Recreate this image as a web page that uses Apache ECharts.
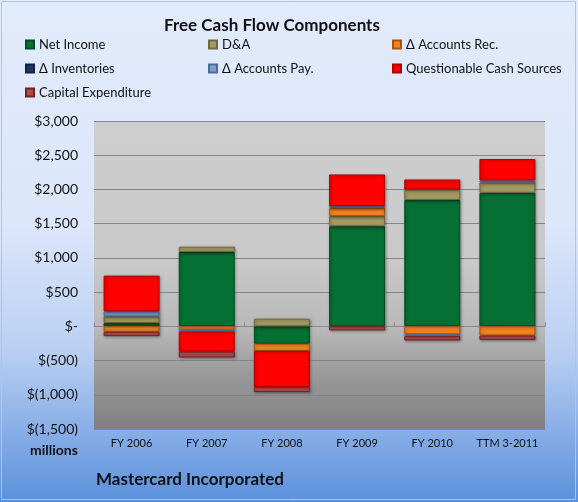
<!DOCTYPE html>
<html>
<head>
<meta charset="utf-8">
<script src="https://cdn.jsdelivr.net/npm/echarts@6/dist/echarts.min.js"></script>
<style>
html,body{margin:0;padding:0;}
#chart{width:578px;height:502px;}
</style>
</head>
<body>
<div id="chart"></div>
<script>
var categories = ['FY 2006', 'FY 2007', 'FY 2008', 'FY 2009', 'FY 2010', 'TTM 3-2011'];
var netIncome = [50, 1086, -255, 1463, 1846, 1950];
var depAmort = [95, 78, 112, 147, 152, 152];
var accountsRec = [-80, -50, -105, 118, -118, -135];
var inventories = [0, 0, 0, 0, 0, 0];
var accountsPay = [75, -25, 0, 29, -25, 29];
var questionable = [520, -295, -530, 462, 147, 313];
var capex = [-63, -85, -70, -59, -63, -63];
var yTicks = { min: -1500, max: 3000, interval: 500 };

var chart = echarts.init(document.getElementById('chart'));
var FONT = 'Lato';

function fmt(v) {
  if (v === 0) return '$-';
  var s = Math.abs(v).toString().replace(/\B(?=(\d{3})+(?!\d))/g, ',');
  return v < 0 ? '$(' + s + ')' : '$' + s;
}

function mkSeries(name, data, color, border) {
  return {
    name: name,
    type: 'bar',
    stack: 'fcf',
    xAxisIndex: 0,
    data: data.map(function (v) { return v === 0 ? null : v; }),
    barWidth: 56,
    itemStyle: {
      color: color,
      borderColor: border,
      borderWidth: 1,
      shadowBlur: 3,
      shadowColor: 'rgba(0,0,0,0.35)',
      shadowOffsetX: 1,
      shadowOffsetY: 1
    },
    emphasis: { disabled: true }
  };
}

var legendCommon = {
  orient: 'vertical',
  top: 32,
  itemWidth: 8,
  itemHeight: 8,
  itemGap: 9,
  icon: 'rect',
  textStyle: { fontFamily: FONT, fontSize: 13, color: '#111', lineHeight: 15 }
};

var option = {
  animation: false,
  backgroundColor: {
    type: 'linear', x: 0, y: 0, x2: 0, y2: 1,
    colorStops: [
      { offset: 0, color: '#e2ebfb' },
      { offset: 0.45, color: '#dbe6fa' },
      { offset: 0.7, color: '#b9cff2' },
      { offset: 1, color: '#5b90dc' }
    ]
  },
  title: {
    text: 'Free Cash Flow Components',
    left: 159,
    top: 12,
    textStyle: { fontFamily: FONT, fontSize: 17, fontWeight: 'bold', color: '#111' }
  },
  legend: [
    Object.assign({ left: 20, data: ['Net Income', 'Δ Inventories', 'Capital Expenditure'] }, legendCommon),
    Object.assign({ left: 203, data: ['D&A', 'Δ Accounts Pay.'] }, legendCommon),
    Object.assign({ left: 387, data: ['Δ Accounts Rec.', 'Questionable Cash Sources'] }, legendCommon)
  ],
  grid: {
    left: 94, right: 33, top: 121, bottom: 73,
    show: true,
    borderWidth: 0,
    backgroundColor: {
      type: 'linear', x: 0, y: 0, x2: 0, y2: 1,
      colorStops: [
        { offset: 0, color: '#cecece' },
        { offset: 0.45, color: '#c9c9c9' },
        { offset: 0.68, color: '#b8b8b8' },
        { offset: 0.8, color: '#9d9d9d' },
        { offset: 1, color: '#7f7f7f' }
      ]
    }
  },
  xAxis: [
    {
      type: 'category',
      data: categories,
      position: 'bottom',
      axisLine: { show: false, onZero: false },
      axisTick: { show: false },
      axisLabel: { fontFamily: FONT, fontSize: 11, color: '#111', margin: 9, interval: 0 }
    },
    {
      type: 'category',
      data: categories,
      axisLine: { show: true, onZero: true, lineStyle: { color: '#888', width: 1 } },
      axisTick: { show: true, inside: false, length: 4, lineStyle: { color: '#888' } },
      axisLabel: { show: false },
      splitLine: { show: false }
    }
  ],
  yAxis: {
    type: 'value',
    min: yTicks.min,
    max: yTicks.max,
    interval: yTicks.interval,
    axisLine: { show: false },
    axisTick: { show: false },
    axisLabel: { fontFamily: FONT, fontSize: 14, color: '#111', margin: 16, formatter: fmt },
    splitLine: { show: true, lineStyle: { color: '#858585', width: 1 } }
  },
  graphic: [
    {
      type: 'rect',
      shape: { x: 1.5, y: 1.5, width: 574, height: 498 },
      style: { fill: 'none', stroke: '#b4c4dc', lineWidth: 1 },
      silent: true
    },
    {
      type: 'text',
      left: 30, top: 443,
      style: { text: 'millions', font: 'bold 14px Lato', fill: '#111' }
    },
    {
      type: 'text',
      left: 96, top: 471,
      style: { text: 'Mastercard Incorporated', font: 'bold 17px Lato', fill: '#111' }
    }
  ],
  series: [
    mkSeries('Net Income', netIncome, '#067034', '#034a22'),
    mkSeries('D&A', depAmort, '#a39a62', '#6e6740'),
    mkSeries('Δ Accounts Rec.', accountsRec, '#f58220', '#a8540c'),
    mkSeries('Δ Inventories', inventories, '#1f3864', '#12213d'),
    mkSeries('Δ Accounts Pay.', accountsPay, '#7c9ccf', '#4d6a99'),
    mkSeries('Questionable Cash Sources', questionable, '#ff0000', '#b00000'),
    mkSeries('Capital Expenditure', capex, '#b5494a', '#6e2424')
  ]
};
chart.setOption(option);
</script>
</body>
</html>
